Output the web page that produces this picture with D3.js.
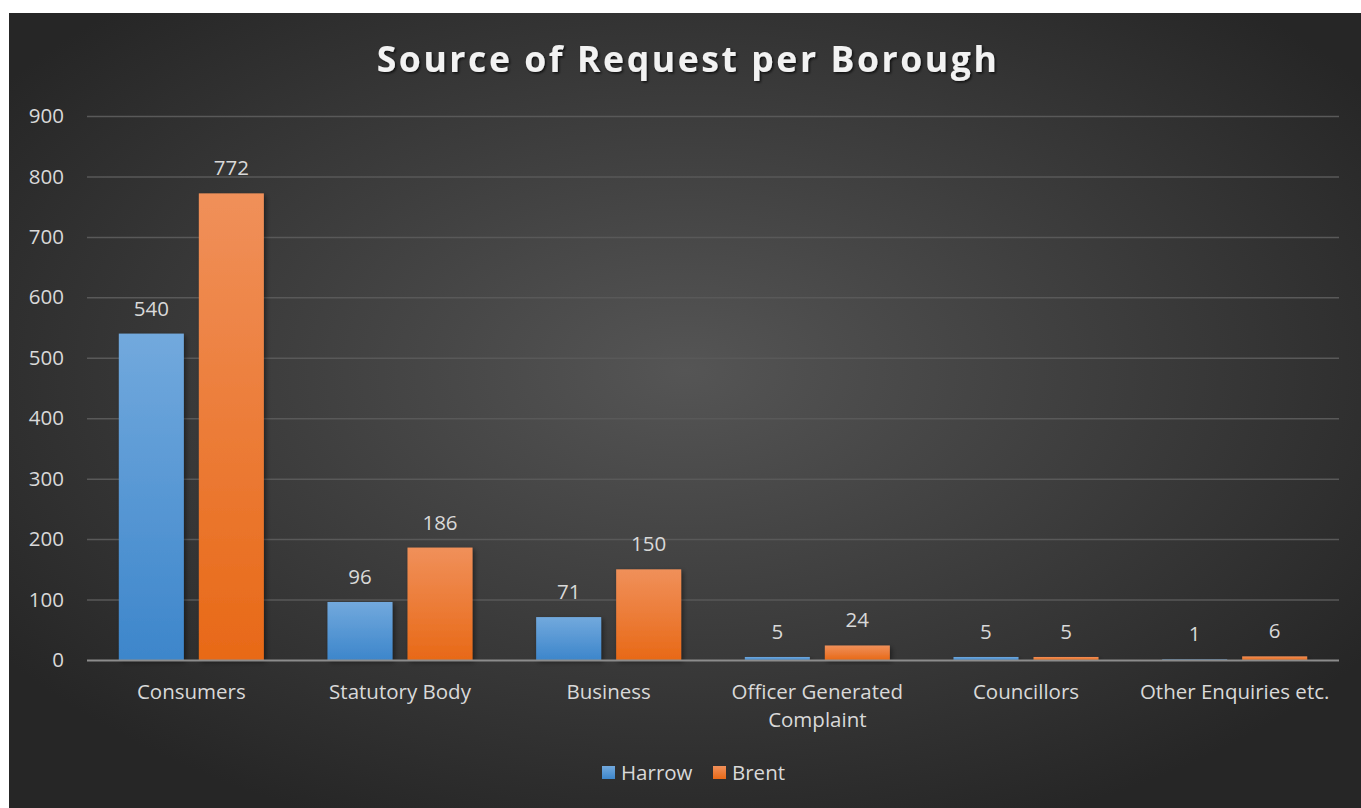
<!DOCTYPE html>
<html>
<head>
<meta charset="utf-8">
<script src="https://cdn.jsdelivr.net/npm/d3@7"></script>
<style>
  body { margin: 0; background: #fff; }
  svg { display: block; }
</style>
</head>
<body>
<div id="chart"></div>
<script>
(function () {

// data
var categories = ['Consumers', 'Statutory Body', 'Business', 'Officer Generated Complaint', 'Councillors', 'Other Enquiries etc.'];
var harrow = [540, 96, 71, 5, 5, 1];
var brent = [772, 186, 150, 24, 5, 6];
var seriesNames = ['Harrow', 'Brent'];
var yTicks = [0, 100, 200, 300, 400, 500, 600, 700, 800, 900];

var width = 1361, height = 808;
var margin = {top: 116, left: 87, right: 22, bottom: 148};

var svg = d3.select('#chart').append('svg')
  .attr('width', width)
  .attr('height', height);

var defs = svg.append('defs');

// background gradient - lighter in the middle
var bg = defs.append('radialGradient').attr('id', 'bgGrad')
  .attr('cx', '50%').attr('cy', '45%').attr('r', '62%');
bg.append('stop').attr('offset', '0%').attr('stop-color', '#555555');
bg.append('stop').attr('offset', '100%').attr('stop-color', '#262626');

var blue = defs.append('linearGradient').attr('id', 'blueGrad')
  .attr('x1', 0).attr('y1', 0).attr('x2', 0).attr('y2', 1);
blue.append('stop').attr('offset', '0%').attr('stop-color', '#72a9dd');
blue.append('stop').attr('offset', '100%').attr('stop-color', '#3d86cb');

var orange = defs.append('linearGradient').attr('id', 'orangeGrad')
  .attr('x1', 0).attr('y1', 0).attr('x2', 0).attr('y2', 1);
orange.append('stop').attr('offset', '0%').attr('stop-color', '#f0905a');
orange.append('stop').attr('offset', '100%').attr('stop-color', '#e86917');

var shadow = defs.append('filter').attr('id', 'shadow')
  .attr('x', '-20%').attr('y', '-20%').attr('width', '150%').attr('height', '150%');
shadow.append('feDropShadow').attr('dx', 2).attr('dy', 2).attr('stdDeviation', 2.5)
  .attr('flood-color', '#000').attr('flood-opacity', 0.45);

var tshadow = defs.append('filter').attr('id', 'tshadow');
tshadow.append('feDropShadow').attr('dx', 1.5).attr('dy', 1.5).attr('stdDeviation', 1.2)
  .attr('flood-color', '#000').attr('flood-opacity', 0.7);

svg.append('rect')
  .attr('x', 9).attr('y', 13)
  .attr('width', width - 9).attr('height', height - 13)
  .attr('fill', 'url(#bgGrad)');

var fontFam = '"Open Sans", "Noto Sans", sans-serif';
var fs = 20.5;

svg.append('text')
  .attr('x', 688).attr('y', 72)
  .attr('text-anchor', 'middle')
  .attr('font-family', fontFam)
  .attr('font-weight', 'bold')
  .attr('font-size', 35.5)
  .attr('letter-spacing', 2.6)
  .attr('fill', '#f2f2f2')
  .attr('filter', 'url(#tshadow)')
  .text('Source of Request per Borough');

var x0 = d3.scaleBand()
  .domain(categories)
  .range([margin.left, width - margin.right])
  .paddingInner(0.305)
  .paddingOuter(0.1525);

var x1 = d3.scaleBand()
  .domain(seriesNames)
  .range([0, x0.bandwidth()])
  .paddingInner(0.1875);

var y = d3.scaleLinear()
  .domain([0, 900])
  .range([height - margin.bottom, margin.top]);

// gridlines
svg.append('g')
  .selectAll('line')
  .data(yTicks.slice(1))
  .enter().append('line')
  .attr('x1', margin.left).attr('x2', width - margin.right)
  .attr('y1', function (d) { return y(d) + 0.5; })
  .attr('y2', function (d) { return y(d) + 0.5; })
  .attr('stroke', '#595959')
  .attr('stroke-width', 1.5);

// y axis labels
var yAxis = svg.append('g')
  .attr('transform', 'translate(' + (margin.left - 23) + ',0)')
  .call(d3.axisLeft(y).tickValues(yTicks).tickSize(0).tickPadding(0));
yAxis.select('.domain').remove();
yAxis.selectAll('text')
  .attr('font-family', fontFam)
  .attr('font-size', fs)
  .attr('fill', '#d9d9d9');

var rows = categories.map(function (c, i) {
  return {cat: c, values: [harrow[i], brent[i]]};
});

var groups = svg.append('g').selectAll('g')
  .data(rows)
  .enter().append('g')
  .attr('transform', function (d) { return 'translate(' + x0(d.cat) + ',0)'; });

var fills = ['url(#blueGrad)', 'url(#orangeGrad)'];

groups.selectAll('rect')
  .data(function (d) { return d.values.map(function (v, j) { return {v: v, s: seriesNames[j], j: j}; }); })
  .enter().append('rect')
  .attr('x', function (d) { return x1(d.s); })
  .attr('y', function (d) { return y(d.v); })
  .attr('width', x1.bandwidth())
  .attr('height', function (d) { return y(0) - y(d.v); })
  .attr('fill', function (d) { return fills[d.j]; })
  .attr('filter', 'url(#shadow)');

groups.selectAll('.lbl')
  .data(function (d) { return d.values.map(function (v, j) { return {v: v, s: seriesNames[j]}; }); })
  .enter().append('text')
  .attr('class', 'lbl')
  .attr('x', function (d) { return x1(d.s) + x1.bandwidth() / 2; })
  .attr('y', function (d) { return y(d.v) - 18; })
  .attr('text-anchor', 'middle')
  .attr('font-family', fontFam)
  .attr('font-size', fs)
  .attr('fill', '#d9d9d9')
  .text(function (d) { return d.v; });

// x axis line
svg.append('line')
  .attr('x1', margin.left).attr('x2', width - margin.right)
  .attr('y1', y(0) + 0.5).attr('y2', y(0) + 0.5)
  .attr('stroke', '#8c8c8c')
  .attr('stroke-width', 2);

// category labels, wrapped like the original
var xl = svg.append('g').selectAll('text')
  .data(categories)
  .enter().append('text')
  .attr('x', function (d) { return x0(d) + x0.bandwidth() / 2; })
  .attr('y', y(0) + 39)
  .attr('text-anchor', 'middle')
  .attr('font-family', fontFam)
  .attr('font-size', fs)
  .attr('fill', '#d9d9d9');
xl.each(function (d) {
  var t = d3.select(this);
  var lines = d === 'Officer Generated Complaint' ? ['Officer Generated', 'Complaint'] : [d];
  lines.forEach(function (ln, i) {
    t.append('tspan')
      .attr('x', x0(d) + x0.bandwidth() / 2)
      .attr('dy', i === 0 ? 0 : 28)
      .text(ln);
  });
});

// legend
var legend = svg.append('g').attr('transform', 'translate(602,766)');
var lx = [0, 111];
seriesNames.forEach(function (s, i) {
  legend.append('rect')
    .attr('x', lx[i]).attr('y', 0)
    .attr('width', 13).attr('height', 13)
    .attr('fill', fills[i]);
  legend.append('text')
    .attr('x', lx[i] + 19).attr('y', 14)
    .attr('font-family', fontFam)
    .attr('font-size', fs)
    .attr('fill', '#d9d9d9')
    .text(s);
});

})();
</script>
</body>
</html>
